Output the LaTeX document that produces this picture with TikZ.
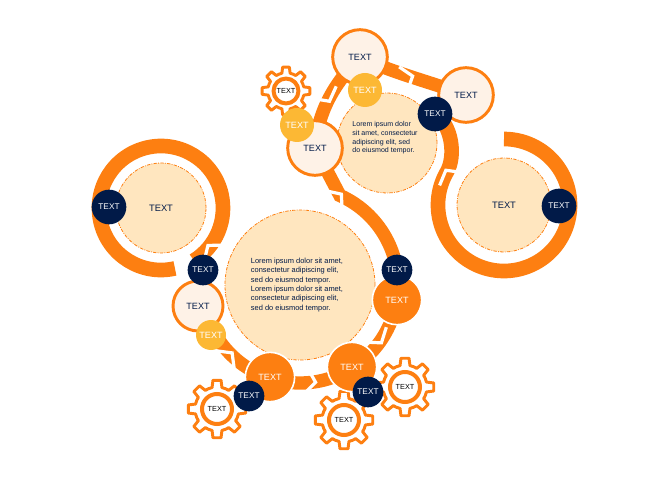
\documentclass[tikz,border=0pt]{standalone}
\usepackage{fontspec}
\setmainfont{Liberation Sans}
\definecolor{flame}{RGB}{253,127,17}
\definecolor{peach}{RGB}{255,230,191}
\definecolor{cream}{RGB}{254,242,231}
\definecolor{sunny}{RGB}{252,184,52}
\definecolor{inkblue}{RGB}{1,26,72}
\begin{document}
\begin{tikzpicture}[x=0.75pt,y=0.75pt,yscale=-1,
  band/.style={draw=flame,line width=10pt},
  ringband/.style={draw=flame,line width=11pt},
  gapline/.style={draw=white,line width=2.4pt},
  hub/.style={circle,draw=flame,fill=peach,line width=0.6pt,dash pattern=on 2.5pt off 1pt on 0.6pt off 1pt,inner sep=0pt,text=inkblue,font=\fontsize{7}{8}\selectfont},
  note/.style={align=left,inner sep=0pt,text=inkblue},
  stage/.style={circle,draw=flame,fill=cream,line width=2.2pt,minimum size=41pt,inner sep=0pt,text=inkblue,font=\fontsize{6.8}{8}\selectfont},
  hot/.style={circle,draw=white,fill=flame,line width=1.2pt,minimum size=37pt,inner sep=0pt,text=white,font=\fontsize{6.8}{8}\selectfont},
  sun/.style={circle,fill=sunny,minimum size=25.5pt,inner sep=0pt,text=white,font=\fontsize{6.8}{8}\selectfont},
  badge/.style={circle,fill=inkblue,minimum size=23pt,inner sep=0pt,text=white,font=\fontsize{6.2}{7}\selectfont},
  pics/chevcut/.style={code={\draw[gapline] (-8,-13) -- (2,0) -- (-8,13);}},
  pics/gearwheel/.style={code={
    \draw[draw=flame,fill=white,line width=2.2pt,line join=round] (-13:22)
      \foreach \a in {0,45,...,315}{ -- (\a-8:29) -- (\a+8:29) -- (\a+13:22) arc[start angle=\a+13,end angle=\a+32,radius=22] } -- cycle;
    \draw[draw=flame,line width=3pt] (0,0) circle[radius=15];
    \node[font=\fontsize{5.5}{6}\selectfont] (-lbl) {TEXT};
  }}
]
\useasboundingbox (0,0) rectangle (663,484);

% centres
\coordinate (cBig) at (300,285);
\coordinate (cLeft) at (161,208);
\coordinate (cRight) at (504,205);
\coordinate (cTop) at (387,143);
\coordinate (pStageTL) at (315,148);
\coordinate (pStageTop) at (360,57);
\coordinate (pStageTR) at (466,95);
\coordinate (pNavyTR) at (435,114);

% Flow bands
\draw[ringband] ([shift={(77:62)}]cLeft) arc[start angle=77,end angle=418,radius=62];
\draw[ringband] (pNavyTR) .. controls (452,125) and (456,156) .. ([shift={(210:66)}]cRight) arc[start angle=210,end angle=-90,radius=66];
\draw[band] ([shift={(151:98)}]cBig) arc[start angle=151,end angle=-66,radius=98] -- (pStageTL);
\draw[band] (pStageTL) .. controls (318,112) and (333,85) .. (pStageTop) coordinate[pos=0.5] (cutF);
\draw[band] (pStageTop) .. controls (390,72) and (430,82) .. (pStageTR) coordinate[pos=0.5] (cutG);

% chevron cuts
\pic[rotate=129] at ([shift={(39:62)}]cLeft) {chevcut};
\pic[rotate=120] at ([shift={(210:66)}]cRight) {chevcut};
\pic[rotate=45] at ([shift={(135:98)}]cBig) {chevcut};
\pic[rotate=-8] at ([shift={(82:98)}]cBig) {chevcut};
\pic[rotate=-55] at ([shift={(35:98)}]cBig) {chevcut};
\pic[rotate=40] at ([shift={(-66:98)}]cBig) {chevcut};
\pic[rotate=-62] at (cutF) {chevcut};
\pic[rotate=18] at (cutG) {chevcut};

% hubs
\node[hub,minimum size=112.5pt] (hubBig) at (cBig) {};
\node[hub,minimum size=75pt] (hubTop) at (cTop) {};
\node[hub,minimum size=67.5pt] (hubLeft) at (cLeft) {TEXT};
\node[hub,minimum size=70.5pt] (hubRight) at (cRight) {TEXT};
\node[note,font=\fontsize{5.6}{7}\selectfont] (bigNote) at ([shift={(-3,0)}]hubBig.center) {Lorem ipsum dolor sit amet,\\consectetur adipiscing elit,\\sed do eiusmod tempor.\\Lorem ipsum dolor sit amet,\\consectetur adipiscing elit,\\sed do eiusmod tempor.};
\node[note,font=\fontsize{5.3}{6.5}\selectfont] (topNote) at ([shift={(-2,-5)}]hubTop.center) {Lorem ipsum dolor\\sit amet, consectetur\\adipiscing elit, sed\\do eiusmod tempor.};

% gears
\pic[scale=0.83] (gearTL) at (286,91) {gearwheel};
\pic (gearA) at (217,409) {gearwheel};
\pic (gearB) at (344,420) {gearwheel};
\pic (gearC) at (405,387) {gearwheel};

% step circles
\node[stage] (stageTL) at (pStageTL) {TEXT};
\node[stage] (stageTop) at (pStageTop) {TEXT};
\node[stage] (stageTR) at (pStageTR) {TEXT};
\node[stage,minimum size=37.5pt] (stageL) at (198,306) {TEXT};
\node[hot] (hotA) at (270,377) {TEXT};
\node[hot] (hotB) at (352,367) {TEXT};
\node[hot] (hotC) at (397,300) {TEXT};
\node[sun] (sunTL) at (297,125) {TEXT};
\node[sun] (sunTop) at (365,90) {TEXT};
\node[sun,minimum size=22.5pt] (sunL) at (211,335) {TEXT};

% navy badges
\node[badge,minimum size=26pt] (badgeL) at (109,207) {TEXT};
\node[badge,minimum size=26pt] (badgeR) at (559,206) {TEXT};
\node[badge,minimum size=26pt] (badgeTR) at (pNavyTR) {TEXT};
\node[badge] (badgeA) at (203,270) {TEXT};
\node[badge] (badgeB) at (249,396) {TEXT};
\node[badge] (badgeC) at (368,392) {TEXT};
\node[badge] (badgeD) at (397,270) {TEXT};

\end{tikzpicture}
\end{document}
